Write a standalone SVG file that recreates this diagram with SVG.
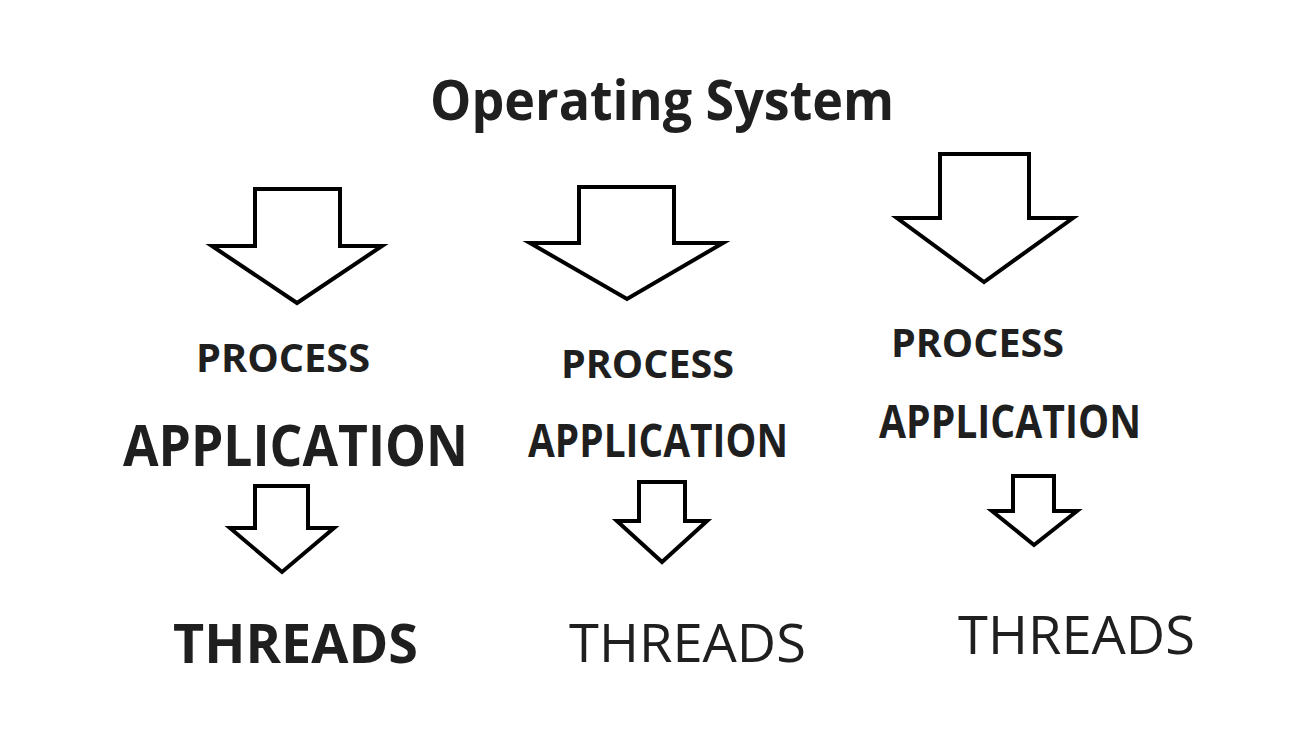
<svg xmlns="http://www.w3.org/2000/svg" width="1303" height="743" viewBox="0 0 1303 743">
<style>
.t{font-family:"Open Sans","Liberation Sans",sans-serif;fill:#1f1f1f;font-weight:700}
.r{font-weight:400}
.arrow{fill:#fff;stroke:#000;stroke-width:4;stroke-linejoin:miter}
</style>
<rect width="1303" height="743" fill="#fff"/>
<g id="title"><text class="t" x="430" y="120" font-size="56" textLength="464" lengthAdjust="spacingAndGlyphs">Operating System</text></g>
<g id="connectors">
<polygon class="arrow" points="255,189 340,189 340,246 382,246 297,303 212,246 255,246"/>
<polygon class="arrow" points="579,187 674,187 674,243 723,243 627,299 530,243 579,243"/>
<polygon class="arrow" points="940,154 1029,154 1029,218 1073,218 984,282 897,218 940,218"/>
<polygon class="arrow" points="255,486 308,486 308,528 334,528 282,572 230,528 255,528"/>
<polygon class="arrow" points="639,482 685,482 685,521 707,521 662,562 617,521 639,521"/>
<polygon class="arrow" points="1013,476 1054,476 1054,511 1077,511 1034,545 992,511 1013,511"/>
</g>
<g id="col1">
<text class="t" x="196" y="372" font-size="40" textLength="174" lengthAdjust="spacingAndGlyphs">PROCESS</text>
<text class="t" x="123" y="466" font-size="58" textLength="345" lengthAdjust="spacingAndGlyphs">APPLICATION</text>
<text class="t" x="173" y="663" font-size="53" textLength="245" lengthAdjust="spacingAndGlyphs">THREADS</text>
</g>
<g id="col2">
<text class="t" x="561" y="378" font-size="39" textLength="173" lengthAdjust="spacingAndGlyphs">PROCESS</text>
<text class="t" x="528" y="457" font-size="46" textLength="260" lengthAdjust="spacingAndGlyphs">APPLICATION</text>
<text class="t r" x="569" y="662" font-size="53" textLength="237" lengthAdjust="spacingAndGlyphs">THREADS</text>
</g>
<g id="col3">
<text class="t" x="891" y="357" font-size="40" textLength="173" lengthAdjust="spacingAndGlyphs">PROCESS</text>
<text class="t" x="879" y="438" font-size="47" textLength="262" lengthAdjust="spacingAndGlyphs">APPLICATION</text>
<text class="t r" x="958" y="654" font-size="53" textLength="237" lengthAdjust="spacingAndGlyphs">THREADS</text>
</g>
</svg>
